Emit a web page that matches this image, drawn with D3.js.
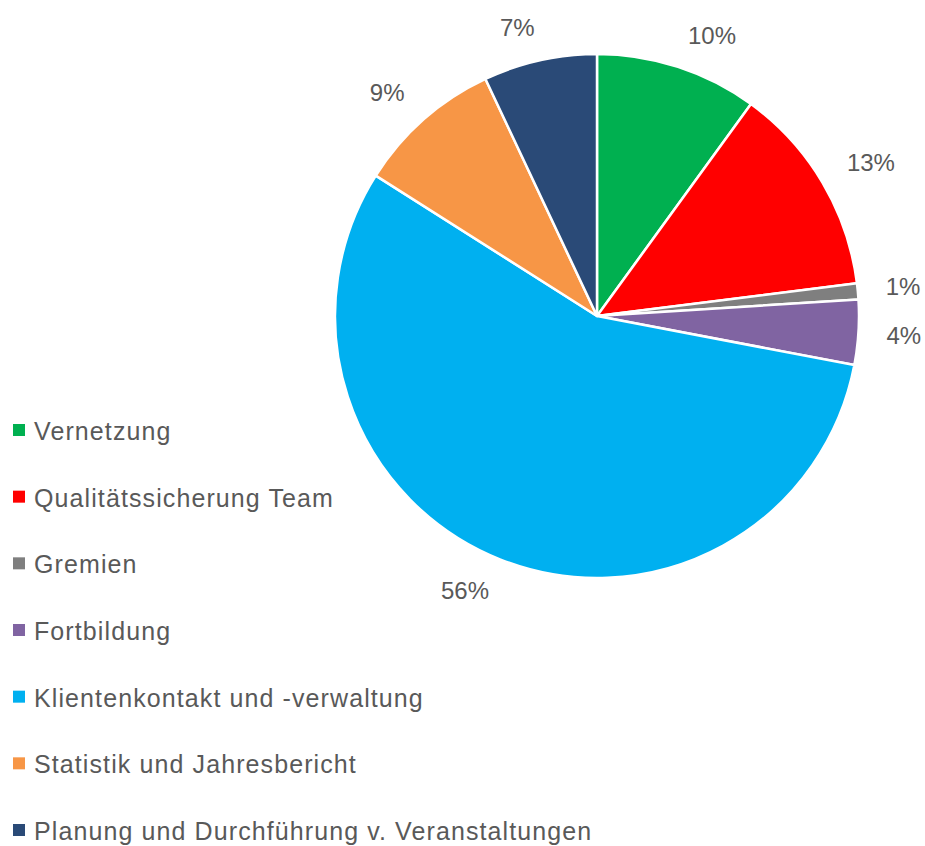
<!DOCTYPE html>
<html>
<head>
<meta charset="utf-8">
<script src="https://cdn.jsdelivr.net/npm/d3@7"></script>
<style>
html, body { margin: 0; padding: 0; background: #ffffff; }
svg { display: block; }
</style>
</head>
<body>
<svg id="chart" width="925" height="846"></svg>
<script>
const categories = [
  "Vernetzung",
  "Qualitätssicherung Team",
  "Gremien",
  "Fortbildung",
  "Klientenkontakt und -verwaltung",
  "Statistik und Jahresbericht",
  "Planung und Durchführung v. Veranstaltungen"
];
const values = [10, 13, 1, 4, 56, 9, 7];
const colors = ["#00B050", "#FF0000", "#7F7F7F", "#8064A2", "#00B0F0", "#F79646", "#2A4A77"];

const W = 925, H = 846;
const cx = 597, cy = 316, R = 262;
const textColor = "#595959";
const font = "'Liberation Sans', Arial, sans-serif";

const svg = d3.select("#chart");
const total = d3.sum(values);
const data = categories.map((c, i) => ({ name: c, value: values[i], color: colors[i] }));

const pie = d3.pie().value(d => d.value).sort(null);
const arcs = pie(data);
const arc = d3.arc().innerRadius(0).outerRadius(R);

const g = svg.append("g").attr("transform", `translate(${cx},${cy})`);
g.selectAll("path.slice")
  .data(arcs)
  .enter().append("path")
  .attr("class", "slice")
  .attr("d", arc)
  .attr("fill", d => d.data.color)
  .attr("stroke", "#ffffff")
  .attr("stroke-width", 2.5)
  .attr("stroke-linejoin", "round");

// data labels outside (box corner nearest the pie sits on the mid-angle ray)
const Rl = 288;
const clamp = v => Math.max(-1, Math.min(1, v));
const labels = g.selectAll("text.lbl")
  .data(arcs)
  .enter().append("text")
  .attr("class", "lbl")
  .attr("font-family", font)
  .attr("font-size", 24)
  .attr("fill", textColor)
  .attr("text-anchor", "middle")
  .attr("dominant-baseline", "central")
  .text(d => d3.format(".0%")(d.data.value / total));

labels.each(function(d) {
  const a = (d.startAngle + d.endAngle) / 2;
  const bb = this.getBBox();
  const hw = bb.width / 2, hh = 7;
  const x = Math.sin(a) * Rl + clamp(Math.sin(a) * 4) * (hw + 2);
  const y = -Math.cos(a) * Rl - clamp(Math.cos(a) * 3) * hh;
  d3.select(this).attr("x", x).attr("y", y);
});

// legend
const legendY = d3.scalePoint().domain(categories).range([440, 840]);
const lg = svg.append("g");
const items = lg.selectAll("g.item")
  .data(data)
  .enter().append("g")
  .attr("class", "item")
  .attr("transform", d => `translate(0,${legendY(d.name)})`);
items.append("rect")
  .attr("x", 13).attr("y", -16)
  .attr("width", 12).attr("height", 12)
  .attr("fill", d => d.color);
items.append("text")
  .attr("x", 34).attr("y", 0)
  .attr("font-family", font)
  .attr("font-size", 25)
  .attr("letter-spacing", 1.1)
  .attr("fill", textColor)
  .text(d => d.name);
</script>
</body>
</html>
